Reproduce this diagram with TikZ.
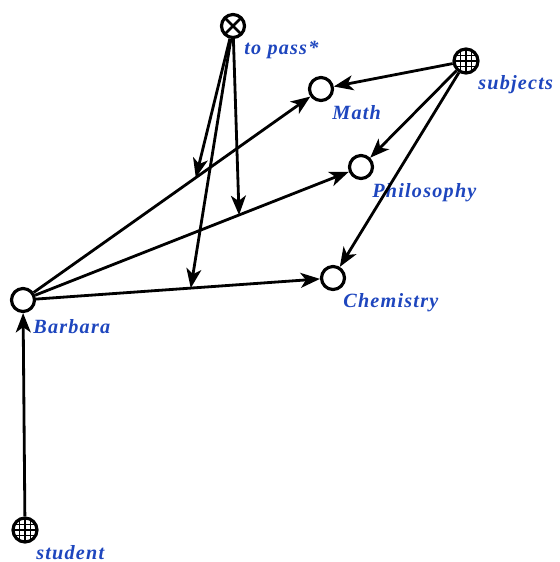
\documentclass[tikz,border=0pt]{standalone}
\usepackage{fontspec}
\setmainfont{Liberation Serif}
\newfontfamily\lblfont[LetterSpace=6]{Liberation Serif}
\usetikzlibrary{arrows.meta, positioning, calc}

\definecolor{lblblue}{RGB}{30,70,190}

\tikzset{
  inst/.style={draw, circle, line width=1.8pt, minimum size=0.46cm, inner sep=0pt},
  cls/.style={inst, minimum size=0.48cm, path picture={
      \foreach \f in {0.27,0.5,0.73} {
        \draw[line width=1pt] ($(path picture bounding box.south west)!\f!(path picture bounding box.south east)$) -- +(0,-30);
        \draw[line width=1pt] ($(path picture bounding box.south west)!\f!(path picture bounding box.north west)$) -- +(30,0);
      }}},
  rel/.style={inst, path picture={
      \draw[line width=1.6pt] (path picture bounding box.north west) -- (path picture bounding box.south east);
      \draw[line width=1.6pt] (path picture bounding box.north east) -- (path picture bounding box.south west);}},
  lbl/.style={anchor=west, inner sep=0pt, text=lblblue, font=\lblfont\bfseries\itshape\fontsize{11.5}{13}\selectfont},
  link/.style={-{Stealth[length=11pt, width=8.5pt, inset=3pt]}, line width=1.6pt}
}

\begin{document}
\begin{tikzpicture}[x=0.02cm, y=-0.02cm]
  \useasboundingbox (0,0) rectangle (560,562);

  % nodes
  \node[rel] (topass) at (233,26) {};
  \node[cls] (subjects) at (466,61) {};
  \node[inst] (math) at (321,89) {};
  \node[inst] (philo) at (361,167) {};
  \node[inst] (chem) at (333,278) {};
  \node[inst] (barbara) at (23,300) {};
  \node[cls] (student) at (25,530) {};

  % labels
  \node[lbl] (topasslbl) at ($(topass)+(11,24)$) {to pass*};
  \node[lbl] (subjectslbl) at ($(subjects)+(12,24)$) {subjects};
  \node[lbl] (mathlbl) at ($(math)+(11,24)$) {Math};
  \node[lbl] (philolbl) at ($(philo)+(11,26)$) {Philosophy};
  \node[lbl] (chemlbl) at ($(chem)+(10,25)$) {Chemistry};
  \node[lbl] (barbaralbl) at ($(barbara)+(10,27)$) {Barbara};
  \node[lbl] (studentlbl) at ($(student)+(11,23)$) {student};

  % edges
  \draw[link] (subjects) -- (math);
  \draw[link] (subjects) -- (philo);
  \draw[link] (subjects) -- (chem);
  \draw[link] (student) -- (barbara);
  \draw[link] (barbara) -- coordinate[pos=0.586] (bm) (math);
  \draw[link] (barbara) -- coordinate[pos=0.65] (bp) (philo);
  \draw[link] (barbara) -- coordinate[pos=0.545] (bc) (chem);
  \draw[link] (topass) -- (bm);
  \draw[link] (topass) -- (bp);
  \draw[link] (topass) -- (bc);
\end{tikzpicture}
\end{document}
